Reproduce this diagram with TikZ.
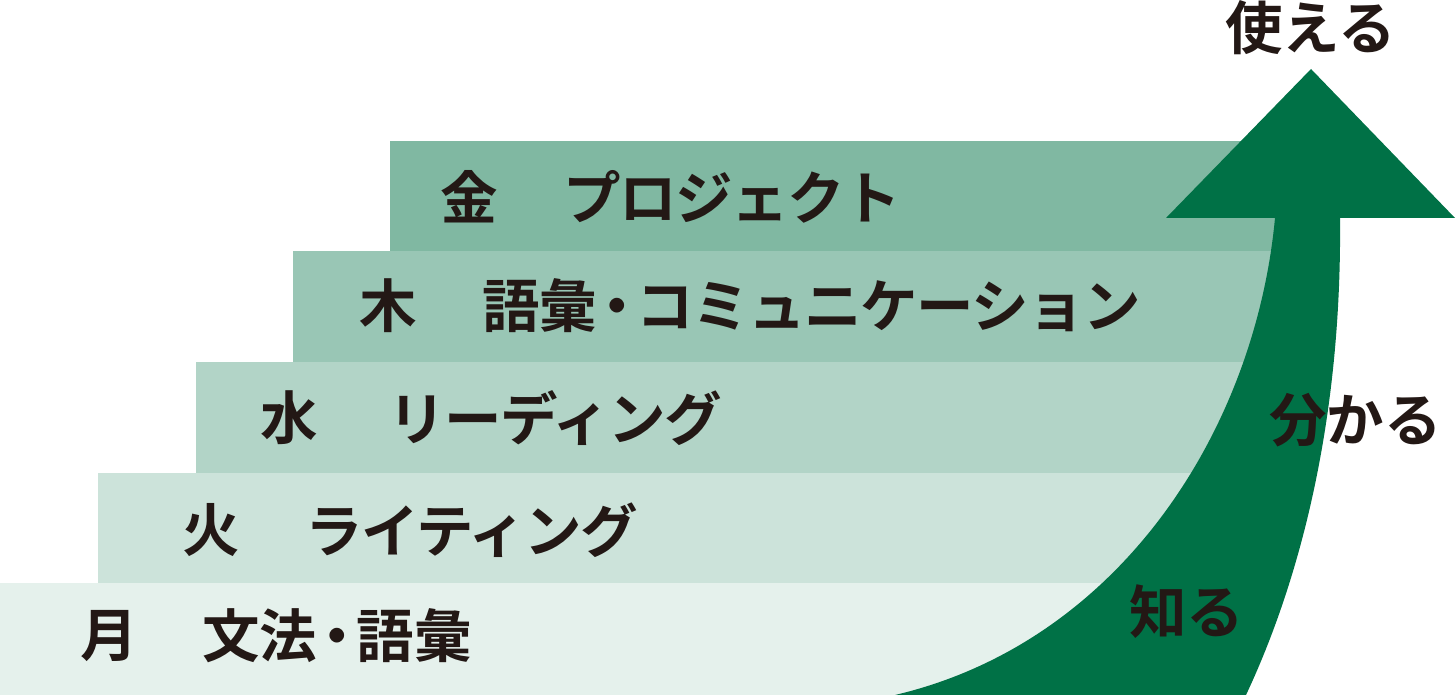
\documentclass[tikz,border=0pt]{standalone}
\usepackage{fontspec}
\newfontfamily\jpfont{Noto Sans CJK JP}[BoldFont={* Bold}]
\newfontfamily\jpkana{Noto Sans CJK JP}[BoldFont={* Bold},LetterSpace=-2.5]
\definecolor{arrowgreen}{HTML}{007146}
\definecolor{inkc}{HTML}{231815}
\begin{document}
\begin{tikzpicture}[x=1pt,y=-1pt,
  lbl/.style={anchor=west,inner sep=0pt,outer sep=0pt,text=inkc,
    font=\jpfont\bfseries\fontsize{57.5}{60}\selectfont},
  kana/.style={lbl,font=\jpkana\bfseries\fontsize{57.5}{60}\selectfont}]
\useasboundingbox (0,0) rectangle (1456,695);
% steps
\fill[arrowgreen!10] (0,583) rectangle (1210,695);
\fill[arrowgreen!20] (98,473) rectangle (1250,583);
\fill[arrowgreen!30] (196,362) rectangle (1290,473);
\fill[arrowgreen!40] (293,251) rectangle (1310,362);
\fill[arrowgreen!50] (390,141) rectangle (1300,251);
% arrow
\fill[arrowgreen] (895,695) .. controls (1120,642) and (1255,430) .. (1275,218)
  -- (1166,218) -- (1311,69) -- (1455,218) -- (1340,218)
  .. controls (1342,420) and (1300,580) .. (1246,695) -- cycle;
% labels
\node[lbl] (mon) at (80,636) {月};
\node[lbl] (monT) at (202,636) {文法\kern-9pt・\kern-9pt語彙};
\node[lbl] (tue) at (182,530) {火};
\node[kana] (tueT) at (305,530) {ライティング};
\node[lbl] (wed) at (260,418) {水};
\node[kana] (wedT) at (388,418) {リーディング};
\node[lbl] (thu) at (359,306) {木};
\node[lbl] (thuT) at (482,306) {語彙\kern-9pt・\kern-9pt{\jpkana\bfseries コミュニケーション}};
\node[lbl] (fri) at (440,197) {金};
\node[kana] (friT) at (563,197) {プロジェクト};
\node[lbl] (use) at (1225,28) {使える};
\node[lbl] (und) at (1269,420) {分かる};
\node[lbl] (kno) at (1129,612) {知る};
\end{tikzpicture}
\end{document}
